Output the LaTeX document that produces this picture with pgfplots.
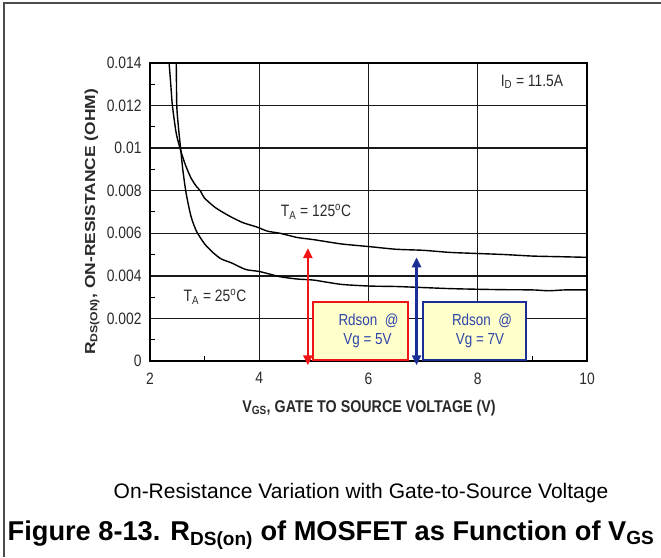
\documentclass[border=0pt]{standalone}
\usepackage{fontspec}
\setmainfont{Liberation Sans}
\newfontfamily\chartfont[FakeStretch=0.84]{Liberation Sans}
\newfontfamily\ylabfont[FakeStretch=1.2]{Liberation Sans}
\usepackage{pgfplots}
\pgfplotsset{compat=1.18}
\usetikzlibrary{arrows.meta}
\definecolor{txt}{HTML}{2A2A2A}
\definecolor{boxfill}{HTML}{FFFFCC}
\definecolor{dblue}{HTML}{1A2E96}
\definecolor{tblue}{HTML}{2E45A8}
\definecolor{rred}{HTML}{F01414}
\begin{document}
\begin{tikzpicture}[x=1pt,y=1pt]
\path[use as bounding box] (0,0) rectangle (661,557);
\draw[black!70, line width=1.2pt] (4,0) -- (4,554) -- (661,554);
\begin{axis}[
  at={(150pt,196pt)}, anchor=south west, scale only axis,
  width=437pt, height=298pt,
  xmin=2, xmax=10, ymin=0, ymax=0.014,
  xtick={2,4,6,8,10},
  ytick={0,0.002,0.004,0.006,0.008,0.01,0.012,0.014},
  minor xtick={3,5,7,9},
  minor ytick={0.001,0.003,0.005,0.007,0.009,0.011,0.013},
  tick pos=left, tick align=inside,
  major tick length=0pt, minor tick length=5pt,
  minor tick style={black, line width=1pt},
  grid=major, major grid style={black!90, line width=1.3pt},
  axis line style={black, line width=1.5pt},
  scaled y ticks=false,
  /pgf/number format/assume math mode=true,
  yticklabel style={/pgf/number format/fixed, /pgf/number format/precision=3, xshift=-5pt},
  xticklabel style={yshift=-8pt},
  tick label style={font=\chartfont\fontsize{16.5}{16.5}\selectfont, text=txt},
  clip mode=individual,
]
% T_A = 125 C
\addplot[black, line width=1.4pt, smooth, tension=0.4] coordinates {
 (2.33,0.0148) (2.35,0.0140) (2.38,0.0130) (2.41,0.0120) (2.48,0.0107) (2.56,0.0099)
 (2.65,0.0092) (2.75,0.0086) (2.85,0.0082) (2.92,0.0080) (3.0,0.00765) (3.2,0.0072)
 (3.46,0.0068) (3.7,0.0065) (3.95,0.0063) (4.15,0.0061) (4.38,0.0060) (4.7,0.0058)
 (5.0,0.0057) (5.5,0.0055) (6.03,0.00537) (6.5,0.00525) (7.0,0.0052) (7.5,0.0051)
 (8.0,0.00505) (8.5,0.0050) (9.0,0.00493) (9.5,0.0049) (10,0.00487)};
% T_A = 25 C
\addplot[black, line width=1.4pt, smooth, tension=0.4] coordinates {
 (2.46,0.0148) (2.48,0.0140) (2.49,0.0120) (2.52,0.0110) (2.56,0.0100) (2.60,0.0090)
 (2.66,0.0079) (2.75,0.0068) (2.85,0.0061) (3.0,0.0055) (3.15,0.0051) (3.3,0.0048)
 (3.5,0.0046) (3.75,0.0043) (4.01,0.0042) (4.38,0.00396) (4.7,0.00385) (5.0,0.0038)
 (5.5,0.0036) (6.03,0.00352) (6.5,0.0035) (7.0,0.00345) (7.5,0.0034) (8.0,0.00337)
 (8.5,0.00335) (9.0,0.00334) (9.3,0.0033) (9.6,0.00334) (10,0.00334)};
\draw[rred, line width=2.5pt, {Triangle[width=9pt,length=10pt]}-{Triangle[width=9pt,length=10pt]}]
  (axis cs:4.89,0.0053) -- (axis cs:4.89,-0.0002);
\draw[dblue, line width=2.5pt, {Triangle[width=9pt,length=10pt]}-{Triangle[width=9pt,length=10pt]}]
  (axis cs:6.88,0.00487) -- (axis cs:6.88,-0.0002);
\end{axis}
\draw[rred, line width=2pt, fill=boxfill] (313,197) rectangle (408,255);
\draw[dblue, line width=2pt, fill=boxfill] (423,197) rectangle (526,255);
\begin{scope}[every node/.style={font=\chartfont\fontsize{16}{16}\selectfont, text=tblue, inner sep=0pt}]
\node at (368.5,236) {Rdson\ \ @};
\node at (367.5,216) {Vg = 5V};
\node at (482,236) {Rdson\ \ @};
\node at (480,216) {Vg = 7V};
\end{scope}
\begin{scope}[every node/.style={font=\chartfont\fontsize{16.5}{16.5}\selectfont, text=txt, inner sep=0pt}]
\node at (316,345) {T\textsubscript{A} = 125\textsuperscript{o}C};
\node at (215,260) {T\textsubscript{A} = 25\textsuperscript{o}C};
\node at (532,475) {I\textsubscript{D} = 11.5A};
\end{scope}
\node[font=\chartfont\bfseries\fontsize{17}{17}\selectfont, text=txt, inner sep=0pt] at (369,149)
  {V\textsubscript{GS}, GATE TO SOURCE VOLTAGE (V)};
\node[rotate=90, font=\ylabfont\bfseries\fontsize{14.5}{14.5}\selectfont, text=txt, inner sep=0pt] at (92,335)
  {R\textsubscript{DS(ON)}, ON-RESISTANCE (OHM)};
\node[anchor=base, font=\fontsize{21}{21}\selectfont, inner sep=0pt] at (361,59)
  {On-Resistance Variation with Gate-to-Source Voltage};
\node[anchor=base, font=\bfseries\fontsize{27.2}{27.2}\selectfont, inner sep=0pt] at (331,17)
  {Figure 8-13. R\textsubscript{DS(on)} of MOSFET as Function of V\textsubscript{GS}};
\end{tikzpicture}
\end{document}
